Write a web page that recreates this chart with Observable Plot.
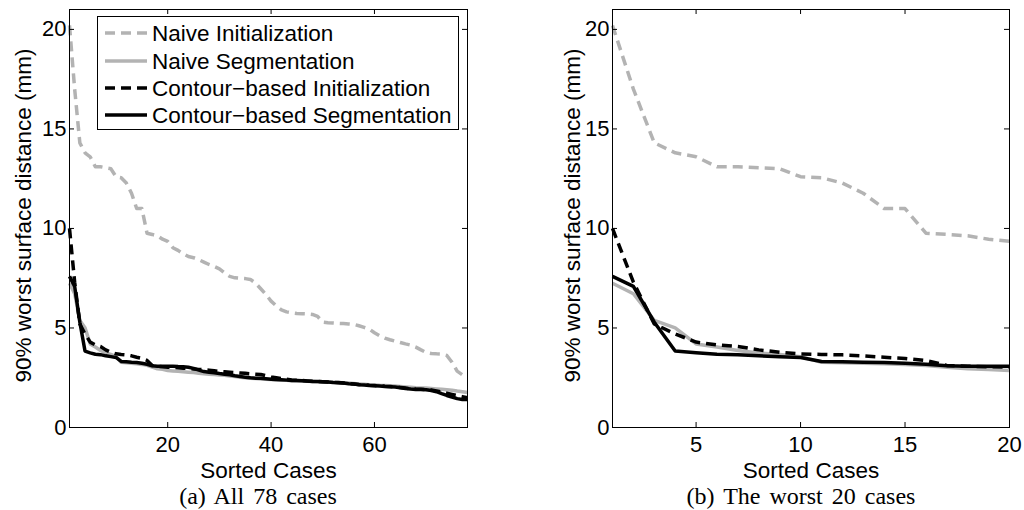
<!DOCTYPE html>
<html><head><meta charset="utf-8">
<script src="https://cdn.jsdelivr.net/npm/d3@7"></script>
<script src="https://cdn.jsdelivr.net/npm/@observablehq/plot@0.6"></script>
<style>
body{margin:0;background:#fff;}
#wrap{position:relative;width:1024px;height:510px;overflow:hidden;background:#fff;font-family:"Liberation Sans",Arial,sans-serif;}
.panel{position:absolute;top:0;width:512px;height:475px;}
.cap{position:absolute;font-family:"Liberation Serif","Times New Roman",serif;font-size:24px;white-space:nowrap;transform:translateX(-50%);top:482px;line-height:28px;word-spacing:3px;color:#000;}
.legend{position:absolute;}
</style></head><body>
<div id="wrap"></div>
<script>
// ---- data (sorted cases, values in mm) ----
const seriesNames = ["Naive Initialization", "Naive Segmentation", "Contour\u2212based Initialization", "Contour\u2212based Segmentation"];
const naiveInit = [20.2, 17.0, 14.3, 13.8, 13.6, 13.1, 13.1, 13.05, 13.0, 12.6, 12.55, 12.28, 11.77, 11.0, 11.0, 9.76, 9.7, 9.63, 9.46, 9.35,
  9.03, 8.9, 8.73, 8.59, 8.53, 8.43, 8.31, 8.19, 8.09, 7.97, 7.77, 7.59, 7.52, 7.5, 7.48, 7.44, 7.25, 6.97, 6.68, 6.35,
  6.11, 5.91, 5.81, 5.76, 5.73, 5.72, 5.71, 5.68, 5.58, 5.29, 5.26, 5.25, 5.23, 5.22, 5.2, 5.18, 5.11, 5.03, 4.94, 4.76,
  4.61, 4.49, 4.41, 4.34, 4.27, 4.2, 4.14, 4.04, 3.9, 3.77, 3.72, 3.7, 3.69, 3.62, 3.28, 2.83, 2.65, 2.6];
const naiveSeg = [7.25, 6.72, 5.38, 5.01, 4.2, 4.04, 3.87, 3.74, 3.67, 3.56, 3.28, 3.25, 3.23, 3.2, 3.17, 3.12, 3.03, 2.95, 2.92, 2.86,
  2.84, 2.82, 2.8, 2.78, 2.76, 2.73, 2.7, 2.68, 2.66, 2.64, 2.62, 2.59, 2.56, 2.53, 2.5, 2.48, 2.46, 2.44, 2.42, 2.41,
  2.39, 2.38, 2.37, 2.35, 2.34, 2.33, 2.32, 2.31, 2.3, 2.29, 2.28, 2.27, 2.26, 2.25, 2.23, 2.21, 2.19, 2.17, 2.15, 2.14,
  2.12, 2.11, 2.1, 2.08, 2.06, 2.04, 2.02, 2.0, 1.99, 1.98, 1.96, 1.94, 1.92, 1.9, 1.87, 1.83, 1.8, 1.76];
const contourInit = [10.0, 7.3, 5.2, 4.7, 4.29, 4.15, 4.07, 3.9, 3.78, 3.7, 3.67, 3.65, 3.6, 3.53, 3.47, 3.37, 3.12, 3.08, 3.05, 3.03,
  3.02, 3.0, 2.98, 2.96, 2.94, 2.92, 2.9, 2.88, 2.85, 2.82, 2.8, 2.78, 2.76, 2.74, 2.72, 2.7, 2.68, 2.66, 2.6, 2.54,
  2.5, 2.46, 2.42, 2.39, 2.37, 2.36, 2.34, 2.32, 2.31, 2.3, 2.29, 2.27, 2.26, 2.24, 2.21, 2.19, 2.16, 2.14, 2.12, 2.11,
  2.09, 2.07, 2.06, 2.04, 2.01, 1.98, 1.95, 1.93, 1.92, 1.91, 1.88, 1.84, 1.78, 1.72, 1.66, 1.6, 1.55, 1.5];
const contourSeg = [7.59, 7.09, 5.29, 3.84, 3.75, 3.68, 3.66, 3.6, 3.56, 3.52, 3.32, 3.3, 3.28, 3.27, 3.23, 3.18, 3.1, 3.08, 3.08, 3.08,
  3.08, 3.06, 3.05, 3.03, 2.97, 2.88, 2.81, 2.78, 2.75, 2.71, 2.68, 2.65, 2.6, 2.56, 2.53, 2.5, 2.48, 2.47, 2.45, 2.43,
  2.41, 2.4, 2.38, 2.36, 2.36, 2.35, 2.33, 2.31, 2.31, 2.3, 2.28, 2.26, 2.25, 2.23, 2.2, 2.18, 2.15, 2.13, 2.11, 2.1,
  2.08, 2.06, 2.05, 2.03, 2.0, 1.96, 1.93, 1.91, 1.91, 1.9, 1.86, 1.8, 1.7, 1.61, 1.53, 1.45, 1.41, 1.41];
const yTicks = [0, 5, 10, 15, 20];
const xTicksAll = [20, 40, 60];
const xTicksWorst = [5, 10, 15, 20];
const xLabel = "Sorted Cases";
const yLabel = "90% worst surface distance (mm)";
const captions = ["(a) All 78 cases", "(b) The worst 20 cases"];

const GRAY = "#b3b3b3";
const seriesStyle = [
  {stroke: GRAY, dash: "10,6"},
  {stroke: GRAY, dash: null},
  {stroke: "#000", dash: "10,6"},
  {stroke: "#000", dash: null}
];
const allSeries = [naiveInit, naiveSeg, contourInit, contourSeg];

function rows(arr, n) { return arr.slice(0, n).map((v, i) => ({x: i + 1, y: v})); }

function panel({n, xTicks, mLeft, mRight, yLabelDx}) {
  const H = 475, mTop = 9, mBottom = 48;
  const innerH = H - mTop - mBottom;
  const innerW = 512 - mLeft - mRight;
  const marks = [];
  allSeries.forEach((arr, i) => {
    const s = seriesStyle[i];
    marks.push(Plot.line(rows(arr, n), {x: "x", y: "y", stroke: s.stroke, strokeWidth: 3.5,
      strokeDasharray: s.dash, strokeLinecap: "butt", strokeLinejoin: "round"}));
  });
  marks.push(
    Plot.ruleX(xTicks, {x: d => d, insetTop: innerH - 5, stroke: "#000", strokeWidth: 1}),
    Plot.ruleX(xTicks, {x: d => d, insetBottom: innerH - 5, stroke: "#000", strokeWidth: 1}),
    Plot.ruleY(yTicks, {y: d => d, insetRight: innerW - 5, stroke: "#000", strokeWidth: 1}),
    Plot.ruleY(yTicks, {y: d => d, insetLeft: innerW - 5, stroke: "#000", strokeWidth: 1}),
    Plot.frame({stroke: "#000", strokeWidth: 1}),
    Plot.axisX(xTicks, {tickSize: 0, tickPadding: 9, label: null, fontSize: 22}),
    Plot.axisY(yTicks, {tickSize: 0, tickPadding: 3, label: null, fontSize: 22}),
    Plot.text([xLabel], {frameAnchor: "bottom", lineAnchor: "middle", textAnchor: "middle", dy: 43, text: d => d, fontSize: 22.5, fill: "#000"}),
    Plot.text([yLabel], {frameAnchor: "left", lineAnchor: "middle", textAnchor: "middle", dx: yLabelDx, dy: -3, rotate: -90, text: d => d, fontSize: 22.5, fill: "#000"})
  );
  return Plot.plot({
    width: 512, height: H,
    marginTop: mTop, marginBottom: mBottom, marginLeft: mLeft, marginRight: mRight,
    x: {domain: [1, n]},
    y: {domain: [0, 21]},
    style: {fontFamily: "'Liberation Sans', Arial, sans-serif", fontSize: "22px", color: "#000", background: "transparent", overflow: "visible"},
    marks
  });
}

const wrap = document.getElementById("wrap");
const p1 = document.createElement("div"); p1.className = "panel"; p1.style.left = "0px";
p1.appendChild(panel({n: 78, xTicks: xTicksAll, mLeft: 69, mRight: 45, yLabelDx: -46}));
wrap.appendChild(p1);
const p2 = document.createElement("div"); p2.className = "panel"; p2.style.left = "512px";
p2.appendChild(panel({n: 20, xTicks: xTicksWorst, mLeft: 100, mRight: 15, yLabelDx: -40}));
wrap.appendChild(p2);

// legend (left panel)
const lg = d3.create("svg").attr("class", "legend").attr("width", 364).attr("height", 116)
  .style("left", "96px").style("top", "15px").style("overflow", "visible");
lg.append("rect").attr("x", 1.5).attr("y", 1.5).attr("width", 361).attr("height", 113)
  .attr("fill", "#fff").attr("stroke", "#000").attr("stroke-width", 1);
const rowY = [18, 46, 73, 100];
seriesNames.forEach((name, i) => {
  const s = seriesStyle[i];
  lg.append("line").attr("x1", 9).attr("x2", 51).attr("y1", rowY[i]).attr("y2", rowY[i])
    .attr("stroke", s.stroke).attr("stroke-width", 3.5).attr("stroke-dasharray", s.dash)
    .attr("stroke-linecap", "butt");
  lg.append("text").attr("x", 56).attr("y", rowY[i]).attr("dy", "0.35em")
    .attr("font-family", "'Liberation Sans', Arial, sans-serif").attr("font-size", 22.5).attr("fill", "#000")
    .text(name);
});
wrap.appendChild(lg.node());

// captions
[[258, captions[0]], [801, captions[1]]].forEach(([cx, t]) => {
  const c = document.createElement("div"); c.className = "cap"; c.style.left = cx + "px"; c.textContent = t;
  wrap.appendChild(c);
});
</script>
</body></html>
